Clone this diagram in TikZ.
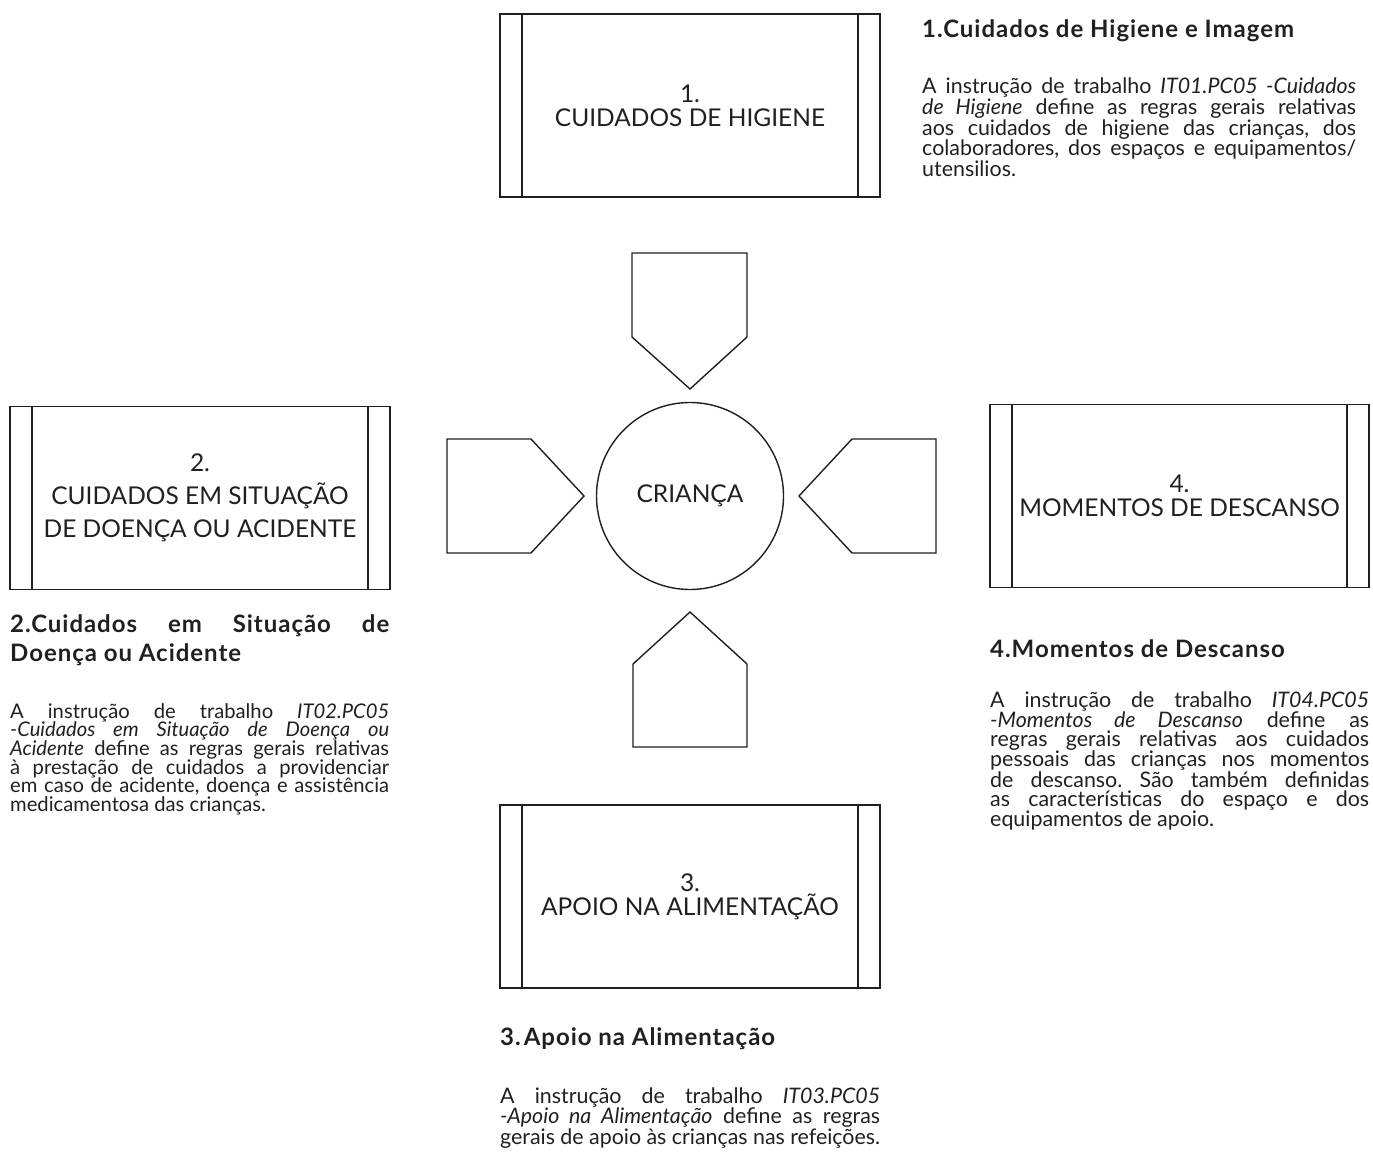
\documentclass[tikz,border=0pt]{standalone}
\usepackage{fontspec}
\setmainfont{Lato}
\newfontfamily\headfont[LetterSpace=4]{Lato}
\definecolor{ink}{HTML}{231F20}
\newcommand\bodysetup{\frenchspacing\hyphenpenalty=10000 \exhyphenpenalty=10000 \relax}
\begin{document}
\begin{tikzpicture}[x=1pt,y=-1pt,
  procbox/.style={draw=ink, line width=1.6pt, minimum width=380pt, minimum height=183pt,
    inner sep=0pt, align=center, text=ink, font=\fontsize{24.5}{24}\selectfont},
  strip/.style={draw=ink, line width=2.4pt},
  chevron/.style={draw=ink, line width=1.4pt, line join=miter},
  headtxt/.style={anchor=base west, inner sep=0pt, text=ink, font=\fontsize{24}{29}\selectfont\headfont\bfseries},
  bodytxt/.style={anchor=base west, inner sep=0pt, text=ink, align=justify,
    font=\fontsize{21.4}{18.7}\selectfont\bodysetup}
]
\useasboundingbox (0,0) rectangle (1373,1155);

% process boxes
\node[procbox] (b1) at (690,105.5) {1.\\CUIDADOS DE HIGIENE};
\node[procbox, font=\fontsize{24.5}{33}\selectfont] (b2) at (200,498) {2.\\CUIDADOS EM SITUAÇÃO\\DE DOENÇA OU ACIDENTE};
\node[procbox, minimum width=379pt] (b4) at (1179.5,496) {4.\\MOMENTOS DE DESCANSO};
\node[procbox] (b3) at (690,896.5) {3.\\APOIO NA ALIMENTAÇÃO};
\foreach \b in {b1,b2,b3,b4}{
  \draw[strip] ([xshift=23pt]\b.north west) -- ([xshift=23pt]\b.south west);
  \draw[strip] ([xshift=-23pt]\b.north east) -- ([xshift=-23pt]\b.south east);
}

% centre
\node[circle, draw=ink, line width=1.4pt, minimum size=187pt, inner sep=0pt, text=ink,
  font=\fontsize{24.5}{24}\selectfont] (crianca) at (690,496) {CRIANÇA};

% chevrons
\draw[chevron] (632,253) -- (747,253) -- (747,337) -- (690,389) -- (632,337) -- cycle;
\draw[chevron] (633,747) -- (747,747) -- (747,664) -- (690,612) -- (633,664) -- cycle;
\draw[chevron] (447,439) -- (531,439) -- (584,496) -- (531,553) -- (447,553) -- cycle;
\draw[chevron] (936,439) -- (852,439) -- (799,496) -- (852,553) -- (936,553) -- cycle;

% texts
\node[headtxt] (h1) at (922,38) {1.Cuidados de Higiene e Imagem};
\node[bodytxt, text width=434pt] (t1) at (922,94) {A instrução de trabalho \textit{IT01.PC05 -Cuidados}\linebreak
\textit{de Higiene} define as regras gerais relativas\linebreak
aos cuidados de higiene das crianças, dos\linebreak
colaboradores, dos espaços e equipamentos/\linebreak
utensilios.};

\node[headtxt, text width=379pt, align=justify] (h2) at (10,632) {2.Cuidados em Situação de\linebreak Doença ou Acidente};
\node[bodytxt, text width=379pt, font=\fontsize{20.2}{18.7}\selectfont\bodysetup] (t2) at (10,718) {A instrução de trabalho \textit{IT02.PC05}\linebreak
\textit{-Cuidados em Situação de Doença ou}\linebreak
\textit{Acidente} define as regras gerais relativas\linebreak
à prestação de cuidados a providenciar\linebreak
em caso de acidente, doença e assistência\linebreak
medicamentosa das crianças.};

\node[headtxt] (h4) at (990,657) {4.Momentos de Descanso};
\node[bodytxt, text width=379pt] (t4) at (990,707) {A instrução de trabalho \textit{IT04.PC05}\linebreak
\textit{-Momentos de Descanso} define as\linebreak
regras gerais relativas aos cuidados\linebreak
pessoais das crianças nos momentos\linebreak
de descanso. São também definidas\linebreak
as características do espaço e dos\linebreak
equipamentos de apoio.};

\node[headtxt] (h3) at (500,1045) {3.\hspace{3pt}Apoio na Alimentação};
\node[bodytxt, text width=380pt] (t3) at (500,1103) {A instrução de trabalho \textit{IT03.PC05}\linebreak
\textit{-Apoio na Alimentação} define as regras\linebreak
gerais de apoio às crianças nas refeições.};
\end{tikzpicture}
\end{document}
